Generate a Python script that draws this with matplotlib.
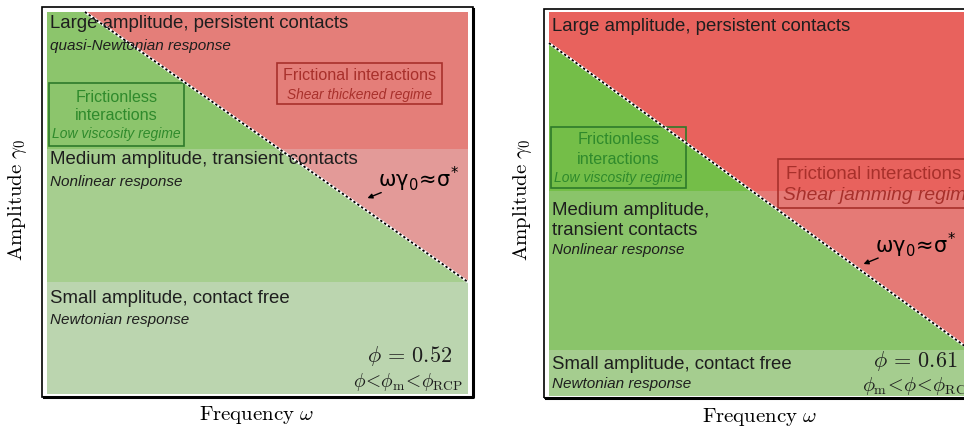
import matplotlib
matplotlib.use("Agg")
import matplotlib.pyplot as plt
from matplotlib.patches import Rectangle, Polygon

plt.rcParams['font.family'] = ['Liberation Sans', 'DejaVu Sans']
plt.rcParams['mathtext.fontset'] = 'cm'

# band edges (fraction of amplitude axis) and the wy0 = sigma* line, per panel
bands_left = [0.0, 0.293, 0.641, 1.0]
line_left_x = [0.09, 1.0]
line_left_y = [1.0, 0.293]

bands_right = [0.0, 0.12, 0.534, 1.0]
line_right_x = [0.0, 1.0]
line_right_y = [0.919, 0.12]

# colours: (green, red) for medium and large band, small band single colour
cols_left = {'small': '#bbd5af', 'mid': ('#a6ce8f', '#e39a98'), 'large': ('#8cc56c', '#e47e79')}
cols_right = {'small': '#a5cd8f', 'mid': ('#8ac46a', '#e57a76'), 'large': ('#74be48', '#e8625d')}

phi_left = 0.52
phi_right = 0.61

TXT = '#1e1e1e'
GRN = '#2f8a2c'
RED = '#a8302b'
BIG = 13.4
SUB = 11


def draw_regions(ax, bands, lx, ly, cols):
    # extend the line to x=0 and x=1
    slope = (ly[1] - ly[0]) / (lx[1] - lx[0])
    y0 = ly[0] + slope * (0 - lx[0])
    y1 = ly[0] + slope * (1 - lx[0])
    ax.add_patch(Rectangle((0, bands[0]), 1, bands[1] - bands[0], fc=cols['small'], ec='none'))
    for (b0, b1), key in zip([(bands[1], bands[2]), (bands[2], bands[3])], ['mid', 'large']):
        g, r = cols[key]
        rect = Rectangle((0, b0), 1, b1 - b0, fc=r, ec='none')
        ax.add_patch(rect)
        poly = Polygon([(0, -1), (0, y0), (1, y1), (1, -1)], closed=True, fc=g, ec='none')
        ax.add_patch(poly)
        poly.set_clip_path(rect)
    ax.plot(lx, ly, color='white', lw=1.8, solid_capstyle='butt')
    ax.plot(lx, ly, color='black', lw=1.3, ls=(0, (1.3, 1.3)))


def frame(ax):
    ax.add_patch(Rectangle((0, 0), 1, 1, transform=ax.transAxes, fc='none', ec='black', lw=1.2, clip_on=False))
    ax.plot([0.004, 1.0, 1.0], [0.0, 0.0, 0.996], transform=ax.transAxes, color='black', lw=2.2, clip_on=False)


def sigma_label(ax, x, y):
    ax.text(x, y, r'$\mathrm{\omega\gamma_0\!\approx\!\sigma^{*}}$', fontsize=15, color='black', va='center',
            math_fontfamily='dejavusans')


fig = plt.figure(figsize=(9.64, 4.28), dpi=100)

# ---------- left panel ----------
ax1 = fig.add_axes([42 / 964, 31 / 428, 431 / 964, 390 / 428])
ax1.set_xlim(-5 / 421, 1 + 5 / 421)
ax1.set_ylim(-3 / 382, 1 + 5 / 382)
ax1.axis('off')
draw_regions(ax1, bands_left, line_left_x, line_left_y, cols_left)
frame(ax1)

ax1.text(0.007, 0.969, 'Large amplitude, persistent contacts', fontsize=BIG, color=TXT, va='center')
ax1.text(0.007, 0.912, 'quasi-Newtonian response', fontsize=SUB, style='italic', color=TXT, va='center')
ax1.add_patch(Rectangle((0.005, 0.649), 0.320, 0.165, fc='none', ec='#2e7a2a', lw=1.2))
ax1.text(0.165, 0.777, 'Frictionless', fontsize=11.6, color=GRN, ha='center', va='center')
ax1.text(0.165, 0.728, 'interactions', fontsize=11.6, color=GRN, ha='center', va='center')
ax1.text(0.165, 0.681, 'Low viscosity regime', fontsize=10, style='italic', color=GRN, ha='center', va='center')
ax1.add_patch(Rectangle((0.546, 0.759), 0.392, 0.107, fc='none', ec=RED, lw=1.2))
ax1.text(0.742, 0.835, 'Frictional interactions', fontsize=11.6, color=RED, ha='center', va='center')
ax1.text(0.742, 0.783, 'Shear thickened regime', fontsize=9.9, style='italic', color=RED, ha='center', va='center')
ax1.text(0.007, 0.613, 'Medium amplitude, transient contacts', fontsize=BIG, color=TXT, va='center')
ax1.text(0.007, 0.555, 'Nonlinear response', fontsize=SUB, style='italic', color=TXT, va='center')
sigma_label(ax1, 0.786, 0.562)
ax1.annotate('', xy=(0.755, 0.510), xytext=(0.800, 0.530),
             arrowprops=dict(arrowstyle='-|>', color='black', lw=1, mutation_scale=7))
ax1.text(0.007, 0.251, 'Small amplitude, contact free', fontsize=BIG, color=TXT, va='center')
ax1.text(0.007, 0.194, 'Newtonian response', fontsize=SUB, style='italic', color=TXT, va='center')
ax1.text(0.862, 0.099, r'$\phi\,=\,%.2f$' % phi_left, fontsize=16, color=TXT, ha='center', va='center')
ax1.text(0.988, 0.031, r'$\phi\!<\!\phi_\mathrm{m}\!<\!\phi_\mathrm{RCP}$', fontsize=14, color=TXT, ha='right', va='center')

# ---------- right panel (cut off at the right edge) ----------
ax2 = fig.add_axes([544 / 964, 30 / 428, 431 / 964, 389 / 428])
ax2.set_xlim(-5 / 421, 1 + 5 / 421)
ax2.set_ylim(-2 / 384, 1 + 3 / 384)
ax2.axis('off')
draw_regions(ax2, bands_right, line_right_x, line_right_y, cols_right)
frame(ax2)

ax2.text(0.007, 0.961, 'Large amplitude, persistent contacts', fontsize=BIG, color=TXT, va='center')
ax2.add_patch(Rectangle((0.005, 0.542), 0.320, 0.159, fc='none', ec='#2e7a2a', lw=1.2))
ax2.text(0.165, 0.667, 'Frictionless', fontsize=11.6, color=GRN, ha='center', va='center')
ax2.text(0.165, 0.615, 'interactions', fontsize=11.6, color=GRN, ha='center', va='center')
ax2.text(0.165, 0.568, 'Low viscosity regime', fontsize=10, style='italic', color=GRN, ha='center', va='center')
ax2.add_patch(Rectangle((0.544, 0.490), 0.480, 0.127, fc='none', ec=RED, lw=1.2))
ax2.text(0.563, 0.578, 'Frictional interactions', fontsize=13.4, color=RED, va='center')
ax2.text(0.556, 0.521, 'Shear jamming regime', fontsize=13.9, style='italic', color=RED, va='center')
ax2.text(0.007, 0.484, 'Medium amplitude,', fontsize=BIG, color=TXT, va='center')
ax2.text(0.007, 0.432, 'transient contacts', fontsize=BIG, color=TXT, va='center')
ax2.text(0.007, 0.380, 'Nonlinear response', fontsize=SUB, style='italic', color=TXT, va='center')
sigma_label(ax2, 0.774, 0.393)
ax2.annotate('', xy=(0.741, 0.341), xytext=(0.788, 0.362),
             arrowprops=dict(arrowstyle='-|>', color='black', lw=1, mutation_scale=7))
ax2.text(0.007, 0.081, 'Small amplitude, contact free', fontsize=BIG, color=TXT, va='center')
ax2.text(0.007, 0.031, 'Newtonian response', fontsize=SUB, style='italic', color=TXT, va='center')
ax2.text(0.869, 0.091, r'$\phi\,=\,%.2f$' % phi_right, fontsize=16, color=TXT, ha='center', va='center')
ax2.text(0.743, 0.026, r'$\phi_\mathrm{m}\!<\!\phi\!<\!\phi_\mathrm{RCP}$', fontsize=14.5, color=TXT, ha='left', va='center')

# axis labels
for xc, yc in [(257, 415), (760, 417)]:
    fig.text(xc / 964, 1 - yc / 428, r'$\mathrm{Frequency}\ \omega$', fontsize=15, ha='center', va='center')
for xc in [18, 522]:
    fig.text(xc / 964, 1 - 200 / 428, r'$\mathrm{Amplitude}\ \gamma_0$', fontsize=15, rotation=90, ha='center', va='center')

fig.savefig('out.png', dpi=100)
